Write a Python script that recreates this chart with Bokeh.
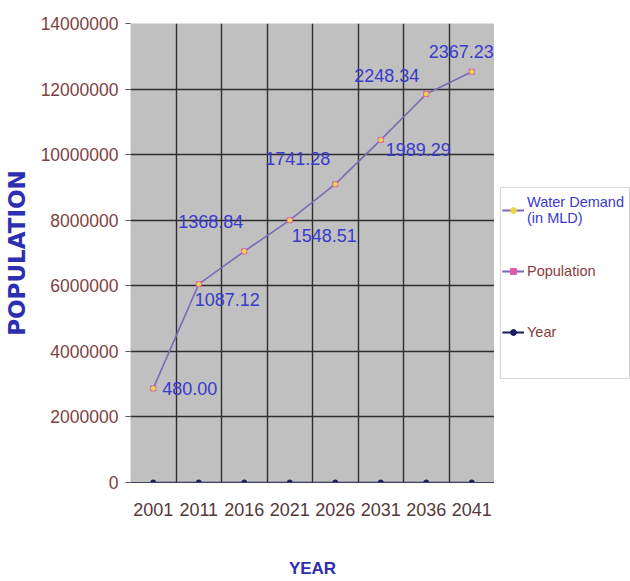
from bokeh.plotting import figure
from bokeh.layouts import row
from bokeh.models import (ColumnDataSource, FixedTicker, Legend, LegendItem,
                          Range1d, NumeralTickFormatter, BoxAnnotation)
from bokeh.embed import file_html
from bokeh.resources import INLINE
from bokeh.core.properties import value

# ---------------- data ----------------
years = ["2001", "2011", "2016", "2021", "2026", "2031", "2036", "2041"]
year_values = [2001, 2011, 2016, 2021, 2026, 2031, 2036, 2041]
population = [2870000, 6050000, 7050000, 8000000, 9100000, 10450000, 11850000, 12530000]
water_demand = [480.00, 1087.12, 1368.84, 1548.51, 1741.28, 1989.29, 2248.34, 2367.23]
y_ticks = [0, 2000000, 4000000, 6000000, 8000000, 10000000, 12000000, 14000000]

# label placement (styles, screen pixels)
label_dx = [9, -4, -1, 2, -5, 5, -7, 22]
label_dy = [0, 15, -30, 15, -26, 10, -18, -20]
label_align = ["left", "left", "right", "left", "right", "left", "right", "right"]

FONT = "Liberation Sans"

# colours
C_YEAR = "#1c1c5c"
C_POPLINE = "#7e68b8"
C_POPMK = "#e05aa8"
C_WD = "#e8d64a"
C_BLUE = "#3a3acc"
C_RED = "#8a3a3a"

idx = list(range(len(years)))
src = ColumnDataSource(dict(
    x=idx, pop=population, yr=year_values,
    lab=[f"{v:.2f}" for v in water_demand],
    dx=label_dx, dy=label_dy, al=label_align,
))

H = 581
TOP, BOTTOM = 23, 99
p = figure(width=494, height=H, output_backend="svg", toolbar_location=None,
           x_range=Range1d(-0.5, len(years) - 0.5), y_range=Range1d(0, 14000000),
           min_border_left=130, min_border_right=0, min_border_top=TOP, min_border_bottom=BOTTOM)
p.outline_line_color = None
p.background_fill_color = "#c0c0c0"
p.border_fill_color = "white"

# grids
p.ygrid.ticker = FixedTicker(ticks=y_ticks[1:-1])
p.xgrid.ticker = FixedTicker(ticks=[i + 0.5 for i in idx[:-1]])
for g in (p.xgrid, p.ygrid):
    g.grid_line_color = "#2e2e2e"
    g.grid_line_width = 1.4

# y axis
p.yaxis.ticker = FixedTicker(ticks=y_ticks)
p.yaxis.formatter = NumeralTickFormatter(format="0")
p.yaxis.axis_line_color = None
p.yaxis.major_tick_line_color = "#555555"
p.yaxis.major_tick_out = 5
p.yaxis.major_tick_in = 0
p.yaxis.minor_tick_line_color = None
p.yaxis.major_label_text_font = FONT
p.yaxis.major_label_text_font_size = "17.5px"
p.yaxis.major_label_text_color = "#7d4242"
p.yaxis.major_label_standoff = 7
p.yaxis.axis_label = "POPULATION"
p.yaxis.axis_label_text_font = "DejaVu Sans"
p.yaxis.axis_label_text_font_style = "bold"
p.yaxis.axis_label_text_font_size = "23px"
p.yaxis.axis_label_text_color = "#2e2eb0"
p.yaxis.axis_label_standoff = 8

# x axis
p.xaxis.ticker = FixedTicker(ticks=idx)
p.xaxis.major_label_overrides = {i: years[i] for i in idx}
p.xaxis.axis_line_color = "#404068"
p.xaxis.axis_line_width = 1.2
p.xaxis.major_tick_line_color = None
p.xaxis.minor_tick_line_color = None
p.xaxis.major_label_text_font = FONT
p.xaxis.major_label_text_font_size = "18px"
p.xaxis.major_label_text_color = "#553838"
p.xaxis.major_label_standoff = 14
p.xaxis.axis_label = "YEAR"
p.xaxis.axis_label_text_font = FONT
p.xaxis.axis_label_text_font_style = "bold"
p.xaxis.axis_label_text_font_size = "17px"
p.xaxis.axis_label_text_color = "#2e2eb0"
p.xaxis.axis_label_standoff = 40

# series
p.line("x", "yr", source=src, line_color=C_YEAR, line_width=1.6)
p.scatter("x", "yr", source=src, marker="circle", size=5, fill_color=C_YEAR, line_color=C_YEAR)
p.line("x", "pop", source=src, line_color=C_POPLINE, line_width=1.6)
p.scatter("x", "pop", source=src, marker="square", size=5, fill_color=C_POPMK, line_color=C_POPMK)
p.scatter("x", "pop", source=src, marker="circle", size=4, fill_color=C_WD, line_color=C_WD)

p.text("x", "pop", text="lab", source=src, x_offset="dx", y_offset="dy",
       text_align="al", text_baseline="middle",
       text_font=value(FONT), text_font_size="18px", text_color=C_BLUE)

# ---------------- legend panel ----------------
LW = 136
FH = H - TOP - BOTTOM  # frame height in px
q = figure(width=LW, height=H, output_backend="svg", toolbar_location=None,
           x_range=Range1d(0, LW), y_range=Range1d(0, FH),
           min_border_left=0, min_border_right=0, min_border_top=TOP, min_border_bottom=BOTTOM)
q.axis.visible = False
q.grid.visible = False
q.outline_line_color = None
q.background_fill_color = "white"
q.border_fill_color = "white"

# legend frame (window px 500..629 x 187..378)
q.add_layout(BoxAnnotation(left=6, right=135, bottom=H - BOTTOM - 378, top=H - BOTTOM - 187,
                           fill_color="white", fill_alpha=1.0,
                           line_color="#7a7a7a", line_width=1.2))

# legend proxies, placed outside the visible range
proxy = ColumnDataSource(dict(x=[-1000, -999], y=[-1000, -1000]))
l_pop = q.line("x", "y", source=proxy, line_color=C_POPLINE, line_width=1.6)
m_wd = q.scatter("x", "y", source=proxy, marker="circle", size=5, fill_color=C_WD, line_color=C_WD)
m_pop = q.scatter("x", "y", source=proxy, marker="square", size=5, fill_color=C_POPMK, line_color=C_POPMK)
l_yr = q.line("x", "y", source=proxy, line_color=C_YEAR, line_width=1.6)
m_yr = q.scatter("x", "y", source=proxy, marker="circle", size=5, fill_color=C_YEAR, line_color=C_YEAR)

common = dict(location=(8, 132), padding=6, spacing=25, label_height=36,
              label_width=90, glyph_width=22, glyph_height=14, label_standoff=3,
              margin=0, label_text_font=FONT, label_text_font_size="14.5px",
              label_text_baseline="middle", border_line_color=None,
              background_fill_alpha=0.0)
leg_r = Legend(items=[
    LegendItem(label=" \n ", renderers=[l_pop, m_wd]),
    LegendItem(label="Population", renderers=[l_pop, m_pop]),
    LegendItem(label="Year", renderers=[l_yr, m_yr]),
], label_text_color=C_RED, **common)
leg_b = Legend(items=[
    LegendItem(label="Water Demand\n(in MLD)", renderers=[l_pop, m_wd]),
    LegendItem(label=" ", renderers=[l_pop, m_pop]),
    LegendItem(label=" ", renderers=[l_yr, m_yr]),
], label_text_color=C_BLUE, **common)
q.add_layout(leg_r)
q.add_layout(leg_b)

layout = row(p, q)
open("out.html", "w").write(file_html(layout, INLINE))
